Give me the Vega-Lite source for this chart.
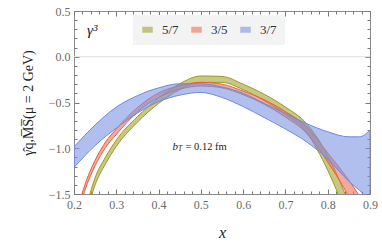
{
  "$schema": "https://vega.github.io/schema/vega-lite/v6.json",
  "width": 296,
  "height": 183,
  "autosize": {"type": "none"},
  "padding": {"left": 74, "top": 11, "right": 12, "bottom": 49},
  "background": "white",
  "config": {
    "view": {"stroke": "#8a8a8a", "strokeWidth": 1},
    "font": "Liberation Serif",
    "axis": {"domain": false, "ticks": false, "zindex": 1, "gridColor": "#7a7a7a", "gridWidth": 1, "gridOpacity": 1, "labelFlush": false, "labelFont": "Liberation Serif", "labelFontSize": 12, "labelColor": "#6a6a6a"}
  },
  "datasets": {
    "bands": [
      {"s": "5/7", "x": 0.2, "lo": -2.245, "hi": -2.155},
      {"s": "5/7", "x": 0.22, "lo": -1.89, "hi": -1.81},
      {"s": "5/7", "x": 0.24, "lo": -1.54, "hi": -1.46},
      {"s": "5/7", "x": 0.25, "lo": -1.40, "hi": -1.32},
      {"s": "5/7", "x": 0.275, "lo": -1.167, "hi": -1.093},
      {"s": "5/7", "x": 0.3, "lo": -0.98, "hi": -0.91},
      {"s": "5/7", "x": 0.35, "lo": -0.715, "hi": -0.655},
      {"s": "5/7", "x": 0.4, "lo": -0.51, "hi": -0.45},
      {"s": "5/7", "x": 0.45, "lo": -0.36, "hi": -0.295},
      {"s": "5/7", "x": 0.5, "lo": -0.28, "hi": -0.21},
      {"s": "5/7", "x": 0.55, "lo": -0.28, "hi": -0.215},
      {"s": "5/7", "x": 0.6, "lo": -0.36, "hi": -0.3},
      {"s": "5/7", "x": 0.65, "lo": -0.48, "hi": -0.41},
      {"s": "5/7", "x": 0.7, "lo": -0.63, "hi": -0.55},
      {"s": "5/7", "x": 0.75, "lo": -0.83, "hi": -0.73},
      {"s": "5/7", "x": 0.8, "lo": -1.24, "hi": -1.08},
      {"s": "5/7", "x": 0.85, "lo": -1.8, "hi": -1.6},
      {"s": "3/5", "x": 0.2, "lo": -1.88, "hi": -1.82},
      {"s": "3/5", "x": 0.225, "lo": -1.47, "hi": -1.41},
      {"s": "3/5", "x": 0.25, "lo": -1.19, "hi": -1.13},
      {"s": "3/5", "x": 0.275, "lo": -0.99, "hi": -0.93},
      {"s": "3/5", "x": 0.3, "lo": -0.85, "hi": -0.79},
      {"s": "3/5", "x": 0.35, "lo": -0.605, "hi": -0.555},
      {"s": "3/5", "x": 0.4, "lo": -0.445, "hi": -0.395},
      {"s": "3/5", "x": 0.45, "lo": -0.355, "hi": -0.315},
      {"s": "3/5", "x": 0.5, "lo": -0.32, "hi": -0.28},
      {"s": "3/5", "x": 0.55, "lo": -0.34, "hi": -0.3},
      {"s": "3/5", "x": 0.6, "lo": -0.415, "hi": -0.375},
      {"s": "3/5", "x": 0.65, "lo": -0.52, "hi": -0.47},
      {"s": "3/5", "x": 0.7, "lo": -0.66, "hi": -0.6},
      {"s": "3/5", "x": 0.75, "lo": -0.835, "hi": -0.765},
      {"s": "3/5", "x": 0.8, "lo": -1.15, "hi": -1.05},
      {"s": "3/5", "x": 0.85, "lo": -1.53, "hi": -1.35},
      {"s": "3/5", "x": 0.9, "lo": -2.0, "hi": -1.7},
      {"s": "3/7", "x": 0.2, "lo": -1.21, "hi": -0.985},
      {"s": "3/7", "x": 0.25, "lo": -0.97, "hi": -0.745},
      {"s": "3/7", "x": 0.3, "lo": -0.78, "hi": -0.55},
      {"s": "3/7", "x": 0.35, "lo": -0.615, "hi": -0.425},
      {"s": "3/7", "x": 0.4, "lo": -0.49, "hi": -0.34},
      {"s": "3/7", "x": 0.45, "lo": -0.42, "hi": -0.295},
      {"s": "3/7", "x": 0.5, "lo": -0.39, "hi": -0.295},
      {"s": "3/7", "x": 0.55, "lo": -0.445, "hi": -0.33},
      {"s": "3/7", "x": 0.6, "lo": -0.545, "hi": -0.4},
      {"s": "3/7", "x": 0.65, "lo": -0.665, "hi": -0.51},
      {"s": "3/7", "x": 0.7, "lo": -0.79, "hi": -0.62},
      {"s": "3/7", "x": 0.75, "lo": -0.93, "hi": -0.73},
      {"s": "3/7", "x": 0.8, "lo": -1.12, "hi": -0.82},
      {"s": "3/7", "x": 0.85, "lo": -1.36, "hi": -0.875},
      {"s": "3/7", "x": 0.875, "lo": -1.46, "hi": -0.875},
      {"s": "3/7", "x": 0.9, "lo": -1.57, "hi": -0.8}
    ]
  },
  "layer": [
    {
      "data": {"values": [{}]},
      "mark": {"type": "rule", "color": "#dcdcdc", "strokeWidth": 1},
      "encoding": {"y": {"datum": 0, "type": "quantitative", "axis": null}}
    },
    {
      "data": {"name": "bands"},
      "transform": [{"filter": "datum.s === '5/7'"}],
      "mark": {"type": "area", "clip": true, "fillOpacity": 0.6, "strokeWidth": 1, "interpolate": "monotone"},
      "encoding": {
        "x": {"field": "x", "type": "quantitative",
          "scale": {"domain": [0.2, 0.9], "nice": false, "zero": false},
          "axis": {"orient": "bottom", "values": [0.2, 0.3, 0.4, 0.5, 0.6, 0.7, 0.8, 0.9], "format": ".1f", "labelPadding": 5,
            "grid": true, "gridDash": [5, 173, 5, 1000],
            "title": "x", "titleFont": "Liberation Serif", "titleFontSize": 16, "titleFontStyle": "italic", "titleFontWeight": "normal", "titleColor": "#222",
            "titleX": 148, "titleY": 38, "titleAlign": "center", "titleBaseline": "middle"}},
        "y": {"field": "lo", "type": "quantitative",
          "scale": {"domain": [-1.5, 0.5], "nice": false, "zero": false},
          "axis": {"orient": "left", "values": [-1.5, -1.0, -0.5, 0.0, 0.5], "format": ".1f", "labelPadding": 4,
            "grid": true, "gridDash": [5, 286, 5, 1000],
            "title": "γ̂q,M̅S̅(μ = 2 GeV)", "titleFont": "Liberation Serif", "titleFontSize": 14, "titleFontWeight": "normal", "titleColor": "#222",
            "titleX": -46, "titleY": 91.5, "titleAngle": 270, "titleAlign": "center", "titleBaseline": "middle"}},
        "y2": {"field": "hi"},
        "color": {"field": "s", "type": "nominal",
          "scale": {"domain": ["5/7", "3/5", "3/7"], "range": ["#a3a32e", "#ee7057", "#7b95e3"]},
          "legend": {"title": null, "orient": "none", "legendX": 59, "legendY": 4, "direction": "horizontal",
            "fillColor": "#f3f3f3", "padding": 8, "columnPadding": 11,
            "symbolType": "M-1,-0.57H1V0.57H-1Z", "symbolSize": 110, "symbolOpacity": 0.6, "symbolStrokeWidth": 0,
            "labelFont": "Liberation Serif", "labelFontSize": 13, "labelColor": "#333", "labelOffset": 8}},
        "stroke": {"field": "s", "type": "nominal",
          "scale": {"domain": ["5/7", "3/5", "3/7"], "range": ["#9a9a20", "#e8603f", "#6f8ade"]},
          "legend": null}
      }
    },
    {
      "data": {"name": "bands"},
      "transform": [{"filter": "datum.s === '3/5'"}],
      "mark": {"type": "area", "clip": true, "fillOpacity": 0.6, "strokeWidth": 1, "interpolate": "monotone"},
      "encoding": {
        "x": {"field": "x", "type": "quantitative", "axis": null},
        "y": {"field": "lo", "type": "quantitative", "axis": null},
        "y2": {"field": "hi"},
        "color": {"field": "s", "type": "nominal"},
        "stroke": {"field": "s", "type": "nominal", "legend": null}
      }
    },
    {
      "data": {"name": "bands"},
      "transform": [{"filter": "datum.s === '3/7'"}],
      "mark": {"type": "area", "clip": true, "fillOpacity": 0.6, "strokeWidth": 1, "interpolate": "monotone"},
      "encoding": {
        "x": {"field": "x", "type": "quantitative", "axis": null},
        "y": {"field": "lo", "type": "quantitative", "axis": null},
        "y2": {"field": "hi"},
        "color": {"field": "s", "type": "nominal"},
        "stroke": {"field": "s", "type": "nominal", "legend": null}
      }
    },
    {
      "data": {"name": "bands"},
      "mark": {"type": "point", "opacity": 0},
      "encoding": {
        "x": {"field": "x", "type": "quantitative", "axis": {"orient": "bottom", "values": [0.22, 0.24, 0.26, 0.28, 0.32, 0.34, 0.36, 0.38, 0.42, 0.44, 0.46, 0.48, 0.52, 0.54, 0.56, 0.58, 0.62, 0.64, 0.66, 0.68, 0.72, 0.74, 0.76, 0.78, 0.82, 0.84, 0.86, 0.88], "labels": false, "title": null, "grid": true, "gridDash": [3, 177, 3, 1000]}},
        "y": {"field": "lo", "type": "quantitative", "axis": {"orient": "left", "values": [-1.4, -1.3, -1.2, -1.1, -0.9, -0.8, -0.7, -0.6, -0.4, -0.3, -0.2, -0.1, 0.1, 0.2, 0.3, 0.4], "labels": false, "title": null, "grid": true, "gridDash": [3, 290, 3, 1000]}}
      }
    },
    {
      "data": {"values": [{}]},
      "mark": {"type": "text", "text": "γ³", "font": "Liberation Serif", "fontSize": 15, "fontStyle": "italic", "align": "left", "baseline": "middle", "color": "#222"},
      "encoding": {"x": {"datum": 0.231, "type": "quantitative", "axis": null}, "y": {"datum": 0.29, "type": "quantitative", "axis": null}}
    },
    {
      "data": {"values": [{}]},
      "mark": {"type": "text", "text": "b", "font": "Liberation Serif", "fontSize": 11, "fontStyle": "italic", "align": "left", "baseline": "middle", "color": "#222"},
      "encoding": {"x": {"datum": 0.433, "type": "quantitative", "axis": null}, "y": {"datum": -0.985, "type": "quantitative", "axis": null}}
    },
    {
      "data": {"values": [{}]},
      "mark": {"type": "text", "text": "T", "font": "Liberation Serif", "fontSize": 7.5, "fontStyle": "italic", "align": "left", "baseline": "middle", "dx": 5.5, "dy": 2.5, "color": "#222"},
      "encoding": {"x": {"datum": 0.433, "type": "quantitative", "axis": null}, "y": {"datum": -0.985, "type": "quantitative", "axis": null}}
    },
    {
      "data": {"values": [{}]},
      "mark": {"type": "text", "text": "= 0.12 fm", "font": "Liberation Serif", "fontSize": 10.5, "align": "left", "baseline": "middle", "dx": 13, "color": "#222"},
      "encoding": {"x": {"datum": 0.433, "type": "quantitative", "axis": null}, "y": {"datum": -0.985, "type": "quantitative", "axis": null}}
    }
  ],
  "resolve": {"axis": {"x": "independent", "y": "independent"}}
}
